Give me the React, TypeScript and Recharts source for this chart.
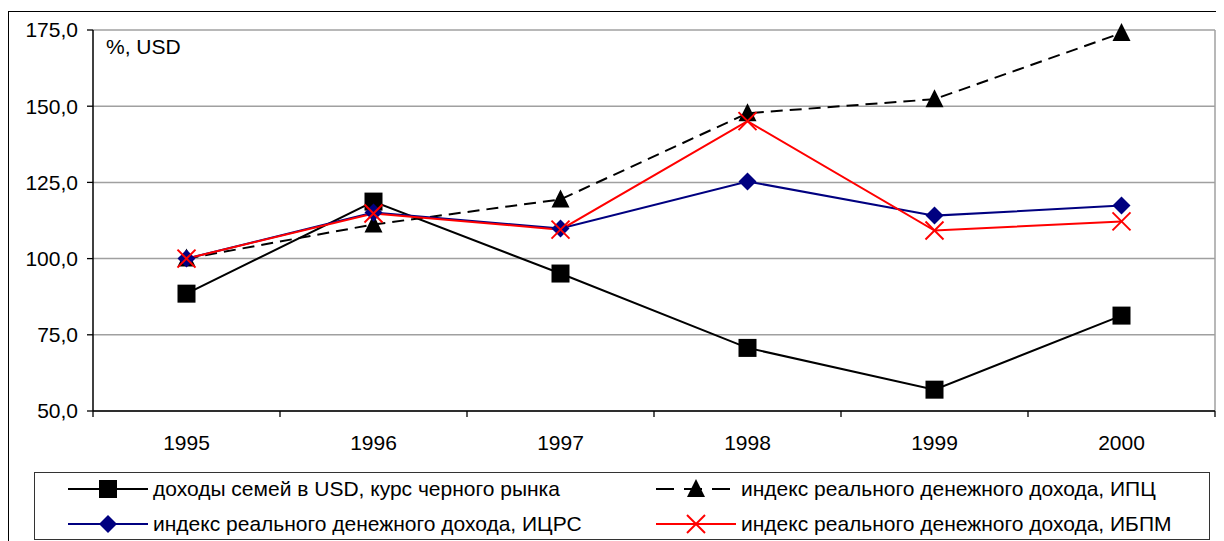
import React from 'react';
import { LineChart, Line, XAxis, YAxis, CartesianGrid, ReferenceLine } from 'recharts';

const years = ['1995', '1996', '1997', '1998', '1999', '2000'];
const incomeUSD = [88.5, 118.7, 95.1, 70.7, 57.0, 81.3];
const indexCPI = [100, 111.2, 119.4, 147.7, 152.3, 174.0];
const indexICRS = [100, 115.1, 109.9, 125.3, 114.1, 117.4];
const indexIBPM = [100, 114.8, 109.5, 145.1, 109.2, 112.2];
const yTicks = [50, 75, 100, 125, 150, 175];
const xBoundaryTicks = [0, 1, 2, 3, 4, 5, 6];
const xLabelTicks = [0.5, 1.5, 2.5, 3.5, 4.5, 5.5];

const labels = {
  income: 'доходы семей в USD, курс черного рынка',
  cpi: 'индекс реального денежного дохода, ИПЦ',
  icrs: 'индекс реального денежного дохода, ИЦРС',
  ibpm: 'индекс реального денежного дохода, ИБПМ',
};

const data = years.map((year, i) => ({
  pos: i + 0.5,
  year,
  income: incomeUSD[i],
  cpi: indexCPI[i],
  icrs: indexICRS[i],
  ibpm: indexIBPM[i],
}));

const FONT = '"Liberation Sans", Arial, sans-serif';
const FS = 21;

type MarkerKind = 'square' | 'triangle' | 'diamond' | 'cross';

const Marker = ({ kind, cx, cy, color }: { kind: MarkerKind; cx: number; cy: number; color: string }) => {
  if (cx == null || cy == null) return null;
  const s = 9;
  if (kind === 'square') return <rect x={cx - s} y={cy - s} width={2 * s} height={2 * s} fill={color} />;
  if (kind === 'triangle')
    return <polygon points={`${cx},${cy - s - 1} ${cx + s},${cy + s - 1} ${cx - s},${cy + s - 1}`} fill={color} />;
  if (kind === 'diamond')
    return <polygon points={`${cx},${cy - s} ${cx + s},${cy} ${cx},${cy + s} ${cx - s},${cy}`} fill={color} />;
  return (
    <g stroke={color} strokeWidth={2}>
      <line x1={cx - s} y1={cy - s} x2={cx + s} y2={cy + s} />
      <line x1={cx - s} y1={cy + s} x2={cx + s} y2={cy - s} />
    </g>
  );
};

const series: { key: 'income' | 'cpi' | 'icrs' | 'ibpm'; color: string; dash?: string; marker: MarkerKind }[] = [
  { key: 'income', color: '#000000', marker: 'square' },
  { key: 'cpi', color: '#000000', dash: '12 7', marker: 'triangle' },
  { key: 'icrs', color: '#000080', marker: 'diamond' },
  { key: 'ibpm', color: '#ff0000', marker: 'cross' },
];

const XTick = (props: any) => {
  const { x, y, payload } = props;
  const v = payload.value as number;
  if (Number.isInteger(v)) {
    return <line x1={x} y1={y} x2={x} y2={y + 6} stroke="#000" strokeWidth={1.3} />;
  }
  const label = years[Math.floor(v)];
  return (
    <text x={x} y={y + 31} textAnchor="middle" dominantBaseline="central" fontFamily={FONT} fontSize={FS} fill="#000">
      {label}
    </text>
  );
};

const LegendIcon = ({ color, dash, marker }: { color: string; dash?: string; marker: MarkerKind }) => (
  <svg width={80} height={22} style={{ display: 'block' }}>
    <line x1={0} y1={11} x2={80} y2={11} stroke={color} strokeWidth={2} strokeDasharray={dash ? '18 10' : undefined} />
    <Marker kind={marker} cx={40} cy={11} color={color} />
  </svg>
);

export default function App() {
  const legendOrder = [
    [series[0], series[1]],
    [series[2], series[3]],
  ];
  return (
    <div style={{ position: 'relative', width: 1216, height: 533, fontFamily: FONT }}>
      <div
        style={{
          position: 'absolute',
          top: 3,
          left: 0,
          width: 1216,
          height: 530,
          borderTop: '1.5px solid #000',
          borderLeft: '1.5px solid #000',
          boxSizing: 'border-box',
        }}
      />
      <div style={{ position: 'absolute', top: 0, left: 0 }}>
        <LineChart width={1216} height={452} data={data} margin={{ top: 22, right: 9, left: 0, bottom: 0 }}>
          <CartesianGrid vertical={false} stroke="#a0a0a0" strokeWidth={1.5} />
          <XAxis
            dataKey="pos"
            type="number"
            domain={[0, 6]}
            ticks={[...xBoundaryTicks, ...xLabelTicks].sort((a, b) => a - b)}
            interval={0}
            tick={<XTick />}
            tickLine={false}
            tickSize={0}
            tickMargin={0}
            axisLine={{ stroke: '#000', strokeWidth: 1.5 }}
            height={49}
            allowDecimals
          />
          <YAxis
            type="number"
            domain={[50, 175]}
            ticks={yTicks}
            interval={0}
            width={85}
            tickSize={6}
            tickMargin={9}
            tickFormatter={(v: number) => v.toFixed(1).replace('.', ',')}
            tick={{ fill: '#000', fontSize: FS, fontFamily: FONT }}
            tickLine={{ stroke: '#000', strokeWidth: 1.3 }}
            axisLine={{ stroke: '#000', strokeWidth: 1.5 }}
          />
          <ReferenceLine x={6} stroke="#a0a0a0" strokeWidth={1.5} />
          {series.map((s) => (
            <Line
              key={s.key}
              dataKey={s.key}
              type="linear"
              stroke={s.color}
              strokeWidth={2}
              strokeDasharray={s.dash}
              isAnimationActive={false}
              dot={(p: any) => <Marker key={`${s.key}-${p.index}`} kind={s.marker} cx={p.cx} cy={p.cy} color={s.color} />}
              activeDot={false}
            />
          ))}
        </LineChart>
      </div>
      <div style={{ position: 'absolute', left: 98, top: 27, fontSize: FS, color: '#000' }}>%, USD</div>
      <div
        style={{
          position: 'absolute',
          left: 26,
          top: 464,
          width: 1176,
          height: 68,
          border: '1.5px solid #333',
          boxSizing: 'border-box',
        }}
      >
        {legendOrder.map((row, r) => (
          <React.Fragment key={r}>
            {row.map((s, c) => (
              <div
                key={s.key}
                style={{
                  position: 'absolute',
                  left: c === 0 ? 33 : 621,
                  top: r === 0 ? 5 : 40,
                  display: 'flex',
                  alignItems: 'center',
                  height: 22,
                  whiteSpace: 'nowrap',
                  fontSize: FS,
                  color: '#000',
                }}
              >
                <LegendIcon color={s.color} dash={s.dash} marker={s.marker} />
                <span style={{ marginLeft: 5 }}>{labels[s.key]}</span>
              </div>
            ))}
          </React.Fragment>
        ))}
      </div>
    </div>
  );
}
